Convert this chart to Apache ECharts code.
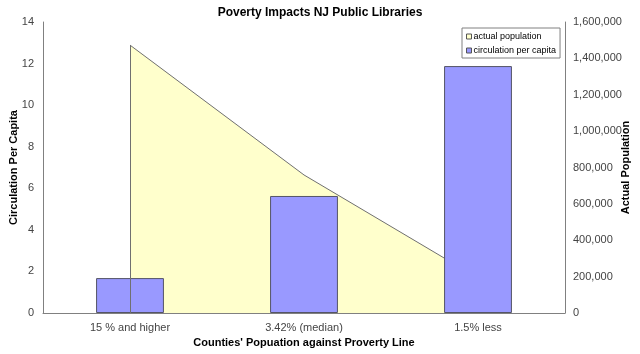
<!DOCTYPE html>
<html>
<head>
<meta charset="utf-8">
<script src="https://cdn.jsdelivr.net/npm/echarts@6/dist/echarts.min.js"></script>
<style>html,body{margin:0;padding:0;background:#fff;}#c{width:640px;height:354px;}</style>
</head>
<body>
<div id="c"></div>
<script>
var categories = ['15 % and higher', '3.42% (median)', '1.5% less'];
var circulationPerCapita = [1.68, 5.63, 11.88];
var actualPopulation = [1473000, 759000, 192000];
var leftTicks = {min: 0, max: 14, interval: 2};
var rightTicks = {min: 0, max: 1600000, interval: 200000};

var FONT = '"Liberation Sans", Arial, sans-serif';
var chart = echarts.init(document.getElementById('c'));
chart.setOption({
  backgroundColor: '#ffffff',
  animation: false,
  title: {
    text: 'Poverty Impacts NJ Public Libraries',
    left: 'center', top: 2,
    textStyle: {fontFamily: FONT, fontSize: 12, fontWeight: 'bold', color: '#000'}
  },
  legend: {
    orient: 'vertical', left: 462, top: 28,
    data: [
      {name: 'actual population', icon: 'rect', itemStyle: {color: '#FFFFCC', borderColor: '#555', borderWidth: 1}},
      {name: 'circulation per capita', icon: 'rect', itemStyle: {color: '#9999FF', borderColor: '#555', borderWidth: 1}}
    ],
    itemWidth: 5, itemHeight: 5, itemGap: 5,
    borderColor: '#808080', borderWidth: 1, padding: [4, 4, 3, 4],
    textStyle: {fontFamily: FONT, fontSize: 9, color: '#000', padding: [0, 0, 0, -3]}
  },
  grid: {left: 43, right: 75, top: 22, bottom: 41, outerBoundsMode: 'none', containLabel: false},
  xAxis: {
    type: 'category', data: categories, boundaryGap: true,
    name: "Counties' Popuation against Proverty Line",
    nameLocation: 'middle', nameGap: 24, nameMoveOverlap: false,
    nameTextStyle: {fontFamily: FONT, fontSize: 11, fontWeight: 'bold', color: '#000'},
    axisLine: {lineStyle: {color: '#808080'}},
    axisTick: {show: false},
    axisLabel: {fontFamily: FONT, fontSize: 11, color: '#444', margin: 9}
  },
  yAxis: [{
    type: 'value', min: leftTicks.min, max: leftTicks.max, interval: leftTicks.interval,
    name: 'Circulation Per Capita', nameLocation: 'middle', nameGap: 24, nameRotate: 90,
    nameMoveOverlap: false,
    nameTextStyle: {fontFamily: FONT, fontSize: 11, fontWeight: 'bold', color: '#000'},
    axisLine: {show: true, lineStyle: {color: '#808080'}},
    axisTick: {show: false},
    splitLine: {show: false},
    axisLabel: {fontFamily: FONT, fontSize: 11, color: '#444', margin: 9}
  }, {
    type: 'value', position: 'right', min: rightTicks.min, max: rightTicks.max, interval: rightTicks.interval,
    name: 'Actual Population', nameLocation: 'middle', nameGap: 55, nameRotate: 90,
    nameMoveOverlap: false,
    nameTextStyle: {fontFamily: FONT, fontSize: 11, fontWeight: 'bold', color: '#000'},
    axisLine: {show: true, lineStyle: {color: '#808080'}},
    axisTick: {show: false},
    splitLine: {show: false},
    axisLabel: {fontFamily: FONT, fontSize: 11, color: '#444', margin: 8,
      formatter: function (v) { return v.toLocaleString('en-US'); }}
  }],
  series: [{
    name: 'actual population', type: 'line', yAxisIndex: 1, data: actualPopulation,
    symbol: 'none', z: 1,
    itemStyle: {color: '#FFFFCC', borderColor: '#808080'},
    lineStyle: {color: '#707070', width: 1},
    areaStyle: {color: '#FFFFCC', opacity: 1},
    markLine: {
      silent: true, symbol: 'none', label: {show: false},
      lineStyle: {color: '#707070', width: 1, type: 'solid'},
      data: [[{coord: [0, 0]}, {coord: [0, actualPopulation[0]]}]]
    }
  }, {
    name: 'circulation per capita', type: 'bar', yAxisIndex: 0, data: circulationPerCapita,
    barWidth: '39%', z: 3,
    itemStyle: {color: '#9999FF', borderColor: '#555566', borderWidth: 1}
  }]
});
</script>
</body>
</html>
